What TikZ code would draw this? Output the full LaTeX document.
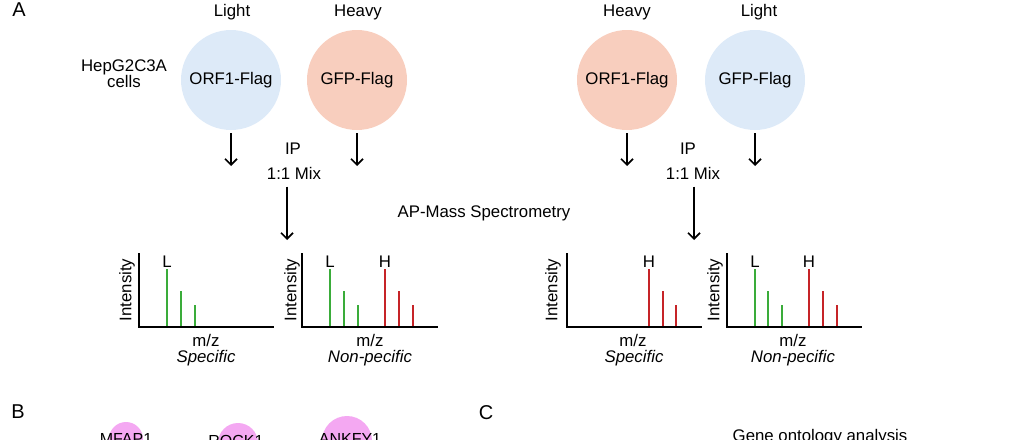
\documentclass[tikz,border=0pt]{standalone}
\usepackage{fontspec}
\setmainfont{Liberation Sans}
\usetikzlibrary{arrows.meta, positioning}
\definecolor{lightblue}{RGB}{221,234,248}
\definecolor{heavypink}{RGB}{248,206,190}
\definecolor{hitpink}{RGB}{244,168,242}
\definecolor{peakgreen}{RGB}{58,172,58}
\definecolor{peakred}{RGB}{198,36,40}
\tikzset{
  cell/.style={circle, minimum size=100pt, inner sep=0pt},
  flow/.style={line width=1.7pt, -{Straight Barb[length=6pt,width=12pt]}},
  axis/.style={line width=2.2pt},
  peak/.style={line width=2.8pt},
  hit/.style={circle, fill=hitpink, inner sep=0pt},
  panel/.style={font=\fontsize{20}{24}\selectfont},
}

\begin{document}
\begin{tikzpicture}[x=1pt,y=-1pt, every node/.style={font=\fontsize{16.8}{20}\selectfont}]
  \useasboundingbox (0,0) rectangle (1030,439);
  \clip (0,0) rectangle (1030,439);

  % panel A, cells and labelling
  \node[panel] (panA) at (19,10) {A};
  \node[align=center, font=\fontsize{16.8}{16}\selectfont] (hep) at (124,74) {HepG2C3A\\cells};

  \node[cell, fill=lightblue] (orfL) at (231,80) {ORF1-Flag};
  \node[cell, fill=heavypink] (gfpH) at (357,80) {GFP-Flag};
  \node[cell, fill=heavypink] (orfH) at (627,80) {ORF1-Flag};
  \node[cell, fill=lightblue] (gfpL) at (755,80) {GFP-Flag};

  \node (lab1) at (232,12) {Light};
  \node (lab2) at (358,12) {Heavy};
  \node (lab3) at (627,12) {Heavy};
  \node (lab4) at (759,12) {Light};

  \node (ipL) at (293,149) {IP};
  \node (mixL) at (294,173) {1:1 Mix};
  \node (ipH) at (688,149) {IP};
  \node (mixH) at (693,173) {1:1 Mix};

  \node (apms) at (484,213) {AP-Mass Spectrometry};

  % arrows
  \coordinate (orfL-end) at (231,166);
  \coordinate (gfpH-end) at (357,166);
  \coordinate (orfH-end) at (627,166);
  \coordinate (gfpL-end) at (755,166);
  \coordinate (mixL-end) at (287,240);
  \coordinate (mixH-end) at (694,240);
  \draw[flow] ([yshift=-3pt]orfL.south) -- (orfL-end);
  \draw[flow] ([yshift=-3pt]gfpH.south) -- (gfpH-end);
  \draw[flow] ([yshift=-3pt]orfH.south) -- (orfH-end);
  \draw[flow] ([yshift=-3pt]gfpL.south) -- (gfpL-end);
  \draw[flow, shorten <=4pt] (mixL-end |- mixL.south) -- (mixL-end);
  \draw[flow, shorten <=4pt] (mixH-end |- mixH.south) -- (mixH-end);

  % spectra
  \begin{scope}[xshift=139pt]
    \foreach \dx/\top in {28/269, 42/291, 56/305}
      \draw[peak, peakgreen] (\dx,327) -- (\dx,\top);
    \draw[axis] (0,253) -- (0,327) -- (135,327);
    \node (specL-L) at (28,262) {L};
    \node[rotate=90] (specL-y) at (-12,290) {Intensity};
    \node (specL-x) at (67,340) {m/z};
    \node[font=\fontsize{16.8}{20}\selectfont\itshape] (specL-t) at (67,358) {Specific};
  \end{scope}

  \begin{scope}[xshift=302pt]
    \foreach \dx/\top in {28/269, 42/291, 56/305}
      \draw[peak, peakgreen] (\dx,327) -- (\dx,\top);
    \foreach \dx/\top in {83/269, 97/291, 111/305}
      \draw[peak, peakred] (\dx,327) -- (\dx,\top);
    \draw[axis] (0,253) -- (0,327) -- (136,327);
    \node (nonL-L) at (28,262) {L};
    \node (nonL-H) at (83,262) {H};
    \node[rotate=90] (nonL-y) at (-10,290) {Intensity};
    \node (nonL-x) at (68,340) {m/z};
    \node[font=\fontsize{16.8}{20}\selectfont\itshape] (nonL-t) at (68,358) {Non-pecific};
  \end{scope}

  \begin{scope}[xshift=567pt]
    \foreach \dx/\top in {82/269, 96/291, 109/305}
      \draw[peak, peakred] (\dx,327) -- (\dx,\top);
    \draw[axis] (0,253) -- (0,327) -- (135,327);
    \node (specH-H) at (82,262) {H};
    \node[rotate=90] (specH-y) at (-14,290) {Intensity};
    \node (specH-x) at (66,340) {m/z};
    \node[font=\fontsize{16.8}{20}\selectfont\itshape] (specH-t) at (67,358) {Specific};
  \end{scope}

  \begin{scope}[xshift=727pt]
    \foreach \dx/\top in {28/269, 41/291, 55/305}
      \draw[peak, peakgreen] (\dx,327) -- (\dx,\top);
    \foreach \dx/\top in {82/269, 96/291, 110/305}
      \draw[peak, peakred] (\dx,327) -- (\dx,\top);
    \draw[axis] (0,253) -- (0,327) -- (135,327);
    \node (nonH-L) at (28,262) {L};
    \node (nonH-H) at (82,262) {H};
    \node[rotate=90] (nonH-y) at (-12,290) {Intensity};
    \node (nonH-x) at (66,340) {m/z};
    \node[font=\fontsize{16.8}{20}\selectfont\itshape] (nonH-t) at (66,358) {Non-pecific};
  \end{scope}

  % panels B and C (cut at the page edge)
  \node[panel] (panB) at (18,412) {B};
  \node[panel] (panC) at (486,413) {C};

  \node[hit, minimum size=34pt] (mfap) at (126,439) {};
  \node[font=\fontsize{16}{19}\selectfont] (mfap-lbl) at (126,439) {MFAP1};
  \node[hit, minimum size=40pt] (rock) at (238,443) {};
  \node[font=\fontsize{16}{19}\selectfont] (rock-lbl) at (236,441) {ROCK1};
  \node[hit, minimum size=50pt] (ankfy) at (347,441) {};
  \node[font=\fontsize{16}{19}\selectfont] (ankfy-lbl) at (350,439) {ANKFY1};

  \node[anchor=base] (go) at (820,441) {Gene ontology analysis};
\end{tikzpicture}
\end{document}
